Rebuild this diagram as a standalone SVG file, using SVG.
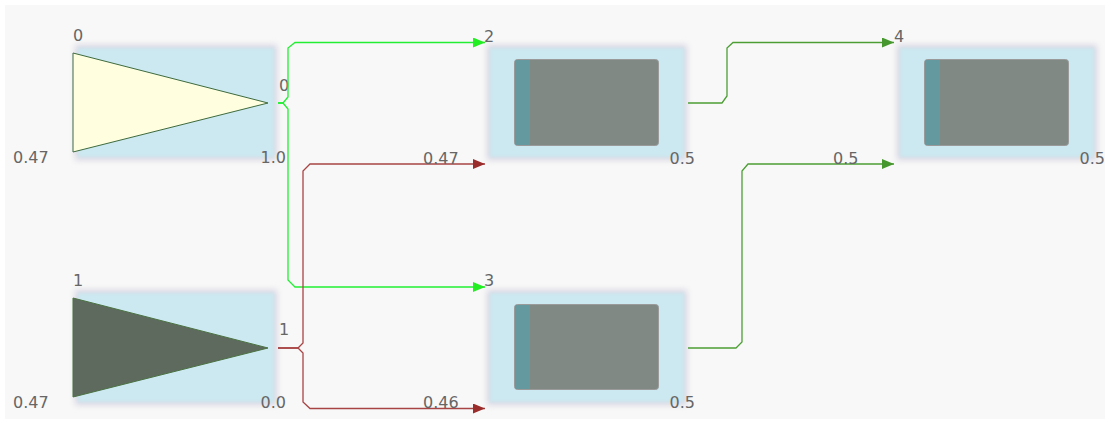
<svg xmlns="http://www.w3.org/2000/svg" width="1110" height="424" viewBox="0 0 1110 424">
  <style>
    text { font-family: "DejaVu Sans", Verdana, sans-serif; font-size: 16px; fill: #666; }
    .end { text-anchor: end; }
    .halo { fill: #d6d6e2; }
    .panel { fill: #cce8f0; }
    .body { fill: #818985; stroke: #9a9a9a; stroke-width: 1; }
    .band { fill: #6499a0; }
    .wire { fill: none; stroke-width: 1.3; }
    .lime { stroke: #22ee33; }
    .rust { stroke: #a84444; }
    .moss { stroke: #4c9e34; }
  </style>
  <defs>
    <filter id="soft" x="-10%" y="-10%" width="120%" height="120%">
      <feGaussianBlur stdDeviation="3"/>
    </filter>
    <filter id="softer" x="-10%" y="-10%" width="120%" height="120%">
      <feGaussianBlur stdDeviation="1.5"/>
    </filter>
    <marker id="arrLime" markerUnits="userSpaceOnUse" markerWidth="13" markerHeight="10" refX="12" refY="5" orient="auto">
      <path d="M0,0 L12,5 L0,10 Z" fill="#22ee22"/>
    </marker>
    <marker id="arrRust" markerUnits="userSpaceOnUse" markerWidth="13" markerHeight="10" refX="12" refY="5" orient="auto">
      <path d="M0,0 L12,5 L0,10 Z" fill="#9a2c2c"/>
    </marker>
    <marker id="arrMoss" markerUnits="userSpaceOnUse" markerWidth="13" markerHeight="10" refX="12" refY="5" orient="auto">
      <path d="M0,0 L12,5 L0,10 Z" fill="#46982e"/>
    </marker>
  </defs>

  <!-- canvas -->
  <rect x="0" y="0" width="1110" height="424" fill="#ffffff"/>
  <rect x="5" y="5" width="1100" height="414" fill="#f8f8f8"/>

  <!-- source node 0 -->
  <g id="node0">
    <rect class="halo" x="75" y="45" width="202" height="115" filter="url(#soft)"/>
    <rect class="panel" x="78" y="48" width="196" height="109" filter="url(#softer)"/>
    <path d="M73,53 L268,103 L73,152 Z" fill="#ffffe0" stroke="#3e6a3e" stroke-width="1"/>
    <text x="73" y="41">0</text>
    <text x="279" y="91">0</text>
    <text x="13" y="163">0.47</text>
    <text class="end" x="286" y="163">1.0</text>
  </g>

  <!-- source node 1 -->
  <g id="node1">
    <rect class="halo" x="75" y="290" width="202" height="115" filter="url(#soft)"/>
    <rect class="panel" x="78" y="293" width="196" height="109" filter="url(#softer)"/>
    <path d="M73,298 L268,348 L73,397 Z" fill="#5f6a5e" stroke="#4a7242" stroke-width="1"/>
    <text x="73" y="286">1</text>
    <text x="279" y="335">1</text>
    <text x="13" y="408">0.47</text>
    <text class="end" x="286" y="408">0.0</text>
  </g>

  <!-- node 2 -->
  <g id="node2">
    <rect class="halo" x="487" y="45" width="200" height="115" filter="url(#soft)"/>
    <rect class="panel" x="490" y="48" width="194" height="109" filter="url(#softer)"/>
    <rect class="body" x="514.5" y="59.5" width="144" height="86" rx="3"/>
    <path class="band" d="M517.5,60 L530,60 L530,145 L517.5,145 Q515,145 515,142.5 L515,62.5 Q515,60 517.5,60 Z"/>
    <text x="484" y="42">2</text>
    <text class="end" x="695" y="164">0.5</text>
  </g>

  <!-- node 3 -->
  <g id="node3">
    <rect class="halo" x="487" y="290" width="200" height="115" filter="url(#soft)"/>
    <rect class="panel" x="490" y="293" width="194" height="109" filter="url(#softer)"/>
    <rect class="body" x="514.5" y="304.5" width="144" height="85" rx="3"/>
    <path class="band" d="M517.5,305 L530,305 L530,389 L517.5,389 Q515,389 515,386.5 L515,307.5 Q515,305 517.5,305 Z"/>
    <text x="484" y="286">3</text>
    <text class="end" x="695" y="408">0.5</text>
  </g>

  <!-- node 4 -->
  <g id="node4">
    <rect class="halo" x="897" y="45" width="200" height="115" filter="url(#soft)"/>
    <rect class="panel" x="900" y="48" width="194" height="109" filter="url(#softer)"/>
    <rect class="body" x="924.5" y="59.5" width="144" height="86" rx="3"/>
    <path class="band" d="M927.5,60 L940,60 L940,145 L927.5,145 Q925,145 925,142.5 L925,62.5 Q925,60 927.5,60 Z"/>
    <text x="894" y="42">4</text>
    <text class="end" x="1105" y="164">0.5</text>
  </g>

  <!-- connectors -->
  <g id="connectors">
    <path class="wire lime" d="M278,103 L283,103 L288,97 L288,48 L295,42.5 L485,42.5" marker-end="url(#arrLime)"/>
    <path class="wire lime" d="M278,103 L283,103 L288,109 L288,280 L295,287 L485,287" marker-end="url(#arrLime)"/>
    <path class="wire rust" d="M278,348 L298,348 L303,343 L303,171 L310,164 L485,164" marker-end="url(#arrRust)"/>
    <path class="wire rust" d="M278,348 L298,348 L303,353 L303,402 L310,408.5 L485,408.5" marker-end="url(#arrRust)"/>
    <path class="wire moss" d="M688,103 L722,103 L727,96 L727,48 L733,42.5 L894,42.5" marker-end="url(#arrMoss)"/>
    <path class="wire moss" d="M688,348 L736,348 L742,342 L742,171 L748,164 L894,164" marker-end="url(#arrMoss)"/>
    <text x="423" y="164">0.47</text>
    <text x="423" y="408">0.46</text>
    <text x="833" y="164">0.5</text>
  </g>
</svg>
